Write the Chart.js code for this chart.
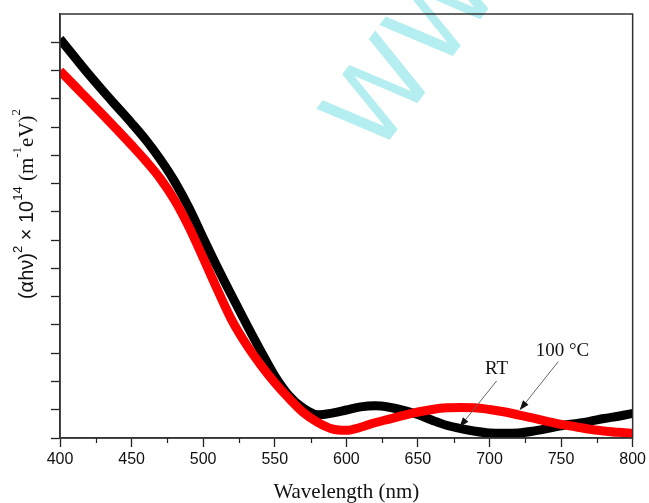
<!DOCTYPE html>
<html>
<head>
<meta charset="utf-8">
<script src="https://cdn.jsdelivr.net/npm/chart.js@4.4.1/dist/chart.umd.min.js"></script>
<style>
  html, body { margin: 0; padding: 0; background: #fff; }
  #wrap { width: 649px; height: 503px; position: relative; }
</style>
</head>
<body>
<div id="wrap"><canvas id="absChart"></canvas></div>
<script>
// Wavelength axis (nm)
const wavelength = [400, 410, 420, 430, 440, 450, 460, 470, 480, 490,
                    500, 510, 520, 530, 540, 550, 560, 570, 580, 590,
                    600, 610, 620, 630, 640, 650, 660, 670, 680, 690,
                    700, 710, 720, 730, 740, 750, 760, 770, 780, 790, 800];

// (alpha h nu)^2 x 10^14
const rtValues = [14.12, 13.49, 12.87, 12.28, 11.71, 11.14, 10.54, 9.86, 9.08, 8.15,
                  7.08, 6.03, 5.03, 4.05, 3.10, 2.20, 1.50, 1.05, 0.82, 0.88,
                  0.99, 1.10, 1.14, 1.09, 0.98, 0.83, 0.63, 0.45, 0.33, 0.24,
                  0.18, 0.17, 0.18, 0.24, 0.33, 0.43, 0.51, 0.59, 0.69, 0.77, 0.87];

const hotValues = [12.99, 12.47, 11.95, 11.43, 10.90, 10.36, 9.80, 9.18, 8.42, 7.47,
                   6.37, 5.24, 4.17, 3.32, 2.60, 1.96, 1.40, 0.90, 0.55, 0.32,
                   0.27, 0.38, 0.54, 0.67, 0.80, 0.92, 1.01, 1.07, 1.08, 1.07,
                   1.01, 0.93, 0.82, 0.71, 0.59, 0.48, 0.40, 0.31, 0.25, 0.20, 0.17];

const xTicks = [400, 450, 500, 550, 600, 650, 700, 750, 800];
const xMinorTicks = [425, 475, 525, 575, 625, 675, 725, 775];

// Curve labels with their arrows (data coordinates)
const curveLabels = [
  { text: 'RT', at: [705, 2.45], from: [705, 2.02], to: [679, 0.38] },
  { text: '100 °C', at: [751, 3.08], from: [748, 2.70], to: [721, 0.98] }
];

const SANS = '"Liberation Sans", Arial, sans-serif';
const SERIF = '"Liberation Serif", "Times New Roman", serif';

function toPoints(xs, ys) {
  return xs.map((x, i) => ({ x: x, y: ys[i] }));
}

// draws text made of pieces, some raised as superscripts
function drawPieces(ctx, pieces, x, y) {
  let cx = x;
  pieces.forEach(p => {
    ctx.font = p.font;
    ctx.fillText(p.t, cx, y + (p.dy || 0));
    cx += ctx.measureText(p.t).width;
  });
  return cx - x;
}

function measurePieces(ctx, pieces) {
  let w = 0;
  pieces.forEach(p => {
    ctx.font = p.font;
    w += ctx.measureText(p.t).width;
  });
  return w;
}

const decorations = {
  id: 'decorations',
  beforeDraw(chart) {
    // faint watermark
    const ctx = chart.ctx;
    ctx.save();
    ctx.translate(376, 158);
    ctx.rotate(-53 * Math.PI / 180);
    ctx.fillStyle = 'rgba(120, 224, 230, 0.55)';
    ctx.font = '106px "DejaVu Sans", sans-serif';
    ctx.textBaseline = 'alphabetic';
    ctx.fillText('WWW', 0, 0);
    ctx.restore();
  },
  afterDraw(chart) {
    const ctx = chart.ctx;
    const area = chart.chartArea;
    const xs = chart.scales.x;
    const ys = chart.scales.y;

    ctx.save();
    // frame
    ctx.strokeStyle = '#333';
    ctx.lineWidth = 1.5;
    ctx.strokeRect(area.left, area.top, area.right - area.left, area.bottom - area.top);

    // minor ticks on x
    ctx.strokeStyle = '#222';
    ctx.lineWidth = 1.2;
    xMinorTicks.forEach(v => {
      const px = Math.round(xs.getPixelForValue(v)) + 0.5;
      ctx.beginPath();
      ctx.moveTo(px, area.bottom);
      ctx.lineTo(px, area.bottom + 5);
      ctx.stroke();
    });

    // arrows and labels
    curveLabels.forEach(l => {
      const x1 = xs.getPixelForValue(l.from[0]);
      const y1 = ys.getPixelForValue(l.from[1]);
      const x2 = xs.getPixelForValue(l.to[0]);
      const y2 = ys.getPixelForValue(l.to[1]);
      const ang = Math.atan2(y2 - y1, x2 - x1);
      ctx.strokeStyle = '#666';
      ctx.lineWidth = 1;
      ctx.beginPath();
      ctx.moveTo(x1, y1);
      ctx.lineTo(x2 - 6 * Math.cos(ang), y2 - 6 * Math.sin(ang));
      ctx.stroke();
      ctx.fillStyle = '#111';
      ctx.beginPath();
      ctx.moveTo(x2, y2);
      ctx.lineTo(x2 - 10 * Math.cos(ang) + 3.5 * Math.sin(ang), y2 - 10 * Math.sin(ang) - 3.5 * Math.cos(ang));
      ctx.lineTo(x2 - 10 * Math.cos(ang) - 3.5 * Math.sin(ang), y2 - 10 * Math.sin(ang) + 3.5 * Math.cos(ang));
      ctx.closePath();
      ctx.fill();

      ctx.fillStyle = '#111';
      ctx.font = '19px ' + SERIF;
      ctx.textAlign = 'center';
      ctx.textBaseline = 'middle';
      ctx.fillText(l.text, xs.getPixelForValue(l.at[0]), ys.getPixelForValue(l.at[1]));
    });

    // x axis title
    ctx.fillStyle = '#111';
    ctx.font = '21px ' + SERIF;
    ctx.textAlign = 'center';
    ctx.textBaseline = 'middle';
    ctx.fillText('Wavelength (nm)', (area.left + area.right) / 2, 492);

    // y axis title, rotated
    const pieces = [
      { t: '(αhν)', font: '20px ' + SANS },
      { t: '2', font: '13px ' + SANS, dy: -9 },
      { t: ' × 10', font: '20px ' + SANS },
      { t: '14', font: '13px ' + SANS, dy: -9 },
      { t: ' (m', font: '21px ' + SERIF },
      { t: '-1', font: '13px ' + SERIF, dy: -9 },
      { t: 'eV)', font: '21px ' + SERIF },
      { t: '2', font: '13px ' + SERIF, dy: -10 }
    ];
    ctx.translate(27, 204);
    ctx.rotate(-Math.PI / 2);
    ctx.textAlign = 'left';
    ctx.textBaseline = 'middle';
    const w = measurePieces(ctx, pieces);
    drawPieces(ctx, pieces, -w / 2, 0);
    ctx.restore();
  }
};

const ctx = document.getElementById('absChart').getContext('2d');
const absChart = new Chart(ctx, {
  type: 'line',
  data: {
    datasets: [
      {
        label: '100 °C',
        data: toPoints(wavelength, hotValues),
        borderColor: '#ff0000',
        borderWidth: 9,
        pointRadius: 0,
        cubicInterpolationMode: 'monotone',
        order: 0
      },
      {
        label: 'RT',
        data: toPoints(wavelength, rtValues),
        borderColor: '#000000',
        borderWidth: 9,
        pointRadius: 0,
        cubicInterpolationMode: 'monotone',
        order: 1
      }
    ]
  },
  options: {
    responsive: true,
    maintainAspectRatio: false,
    animation: false,
    layout: { padding: { top: 14, right: 16, left: 0, bottom: 0 } },
    plugins: {
      legend: { display: false },
      tooltip: { enabled: false }
    },
    scales: {
      x: {
        type: 'linear',
        min: 400,
        max: 800,
        afterFit: s => { s.height = 65; },
        afterBuildTicks: s => { s.ticks = xTicks.map(v => ({ value: v })); },
        ticks: {
          color: '#111',
          font: { family: SANS, size: 16 },
          padding: 3,
          maxRotation: 0
        },
        grid: {
          drawOnChartArea: false,
          drawTicks: true,
          tickLength: 9,
          tickColor: '#222',
          tickWidth: 1.3
        },
        border: { color: '#333', width: 1.5 }
      },
      y: {
        min: 0,
        max: 15,
        afterFit: s => { s.width = 60; },
        ticks: { display: false, stepSize: 1 },
        grid: {
          drawOnChartArea: false,
          drawTicks: true,
          tickLength: 9,
          tickColor: c => (c.tick && c.tick.value === 15 ? 'rgba(0,0,0,0)' : '#222'),
          tickWidth: 1.3
        },
        border: { color: '#333', width: 1.5 }
      }
    }
  },
  plugins: [decorations]
});
</script>
</body>
</html>
